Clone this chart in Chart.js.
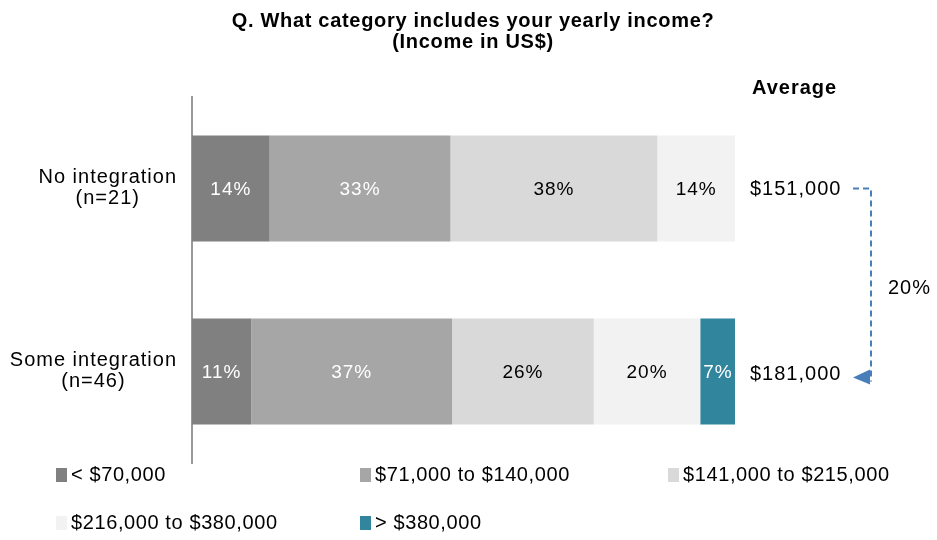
<!DOCTYPE html>
<html>
<head>
<meta charset="utf-8">
<script src="https://cdn.jsdelivr.net/npm/chart.js@4"></script>
<style>
  html, body { margin: 0; padding: 0; background: #fff; }
  #wrap { width: 937px; height: 540px; position: relative; }
</style>
</head>
<body>
<div id="wrap"><canvas id="c" width="937" height="540"></canvas></div>
<script>
// ---- data ----
const categories = [["No integration", "(n=21)"], ["Some integration", "(n=46)"]];
const seriesNames = ["< $70,000", "$71,000 to $140,000", "$141,000 to $215,000", "$216,000 to $380,000", "> $380,000"];
const under70k   = [14.3, 10.9];
const k71to140   = [33.3, 37.0];
const k141to215  = [38.1, 26.1];
const k216to380  = [14.3, 19.6];
const over380k   = [0, 6.5];
const averages   = ["$151,000", "$181,000"];
const averageHeader = "Average";
const changeLabel = "20%";
const titleLines = ["Q. What category includes your yearly income?", "(Income in US$)"];

const colors = ["#808080", "#a6a6a6", "#d9d9d9", "#f2f2f2", "#31859c"];
const labelColors = ["#ffffff", "#ffffff", "#000000", "#000000", "#ffffff"];
const seriesValues = [under70k, k71to140, k141to215, k216to380, over380k];

const FONT = "'Liberation Sans', Arial, sans-serif";

function txt(ctx, s, x, y, font, spacing, align, color) {
  ctx.save();
  ctx.font = font;
  ctx.letterSpacing = spacing + 'px';
  ctx.textBaseline = 'middle';
  ctx.fillStyle = color || '#000';
  let w = ctx.measureText(s).width;
  let sx = x;
  if (align === 'center') sx = x - w / 2;
  else if (align === 'right') sx = x - w;
  ctx.textAlign = 'left';
  ctx.fillText(s, sx, y);
  ctx.restore();
  return w;
}
function measure(ctx, s, font, spacing) {
  ctx.save();
  ctx.font = font;
  ctx.letterSpacing = spacing + 'px';
  const w = ctx.measureText(s).width;
  ctx.restore();
  return w;
}

const titlePlugin = {
  id: 'titlePlugin',
  afterDraw(chart) {
    const ctx = chart.ctx;
    const f = "bold 20px " + FONT;
    txt(ctx, titleLines[0], 473, 21, f, 0.7, 'center');
    txt(ctx, titleLines[1], 473, 42, f, 0.7, 'center');
  }
};

const categoryLabels = {
  id: 'categoryLabels',
  afterDraw(chart) {
    const ctx = chart.ctx;
    const ys = chart.scales.y;
    const f = "20px " + FONT;
    const right = ys.right - 15;
    categories.forEach((lines, i) => {
      const y = ys.getPixelForValue(i);
      const widest = Math.max(...lines.map(l => measure(ctx, l, f, 1)));
      const cx = right - widest / 2;
      const lh = 21;
      lines.forEach((l, k) => {
        txt(ctx, l, cx, y - lh * (lines.length - 1) / 2 + k * lh - 1, f, 1, 'center');
      });
    });
  }
};

const barLabels = {
  id: 'barLabels',
  afterDatasetsDraw(chart) {
    const ctx = chart.ctx;
    const f = "19px " + FONT;
    chart.data.datasets.forEach((ds, di) => {
      const meta = chart.getDatasetMeta(di);
      meta.data.forEach((el, i) => {
        const v = ds.data[i];
        if (!v) return;
        const x = (el.x + el.base) / 2;
        txt(ctx, Math.round(v) + "%", x, el.y + 1, f, 1, 'center', labelColors[di]);
      });
    });
  }
};

const sideNotes = {
  id: 'sideNotes',
  afterDraw(chart) {
    const ctx = chart.ctx;
    const ys = chart.scales.y;
    const area = chart.chartArea;
    const y0 = ys.getPixelForValue(0);
    const y1 = ys.getPixelForValue(1);
    txt(ctx, averageHeader, area.right + 17, area.top - 9, "bold 20px " + FONT, 1, 'left');
    const f = "20px " + FONT;
    txt(ctx, averages[0], area.right + 15, y0 + 1, f, 1, 'left');
    txt(ctx, averages[1], area.right + 15, y1 + 3, f, 1, 'left');
    ctx.save();
    const xs = area.right + 118, xv = area.right + 136;
    ctx.strokeStyle = '#4a7ebb';
    ctx.lineWidth = 2;
    ctx.setLineDash([6, 4]);
    ctx.beginPath();
    ctx.moveTo(xs, y0);
    ctx.lineTo(xv, y0);
    ctx.lineTo(xv, y1 + 10);
    ctx.stroke();
    ctx.setLineDash([]);
    ctx.fillStyle = '#4a7ebb';
    ctx.beginPath();
    ctx.moveTo(xs, y1 + 6);
    ctx.lineTo(xv - 1, y1 - 2);
    ctx.lineTo(xv - 1, y1 + 13);
    ctx.closePath();
    ctx.fill();
    ctx.restore();
    txt(ctx, changeLabel, area.right + 153, (y0 + y1) / 2 + 8, f, 1, 'left');
  }
};

const customLegend = {
  id: 'customLegend',
  afterDraw(chart) {
    const ctx = chart.ctx;
    const colX = [56, 360, 668];
    const rowY = [475, 523];
    const f = "20px " + FONT;
    chart.data.datasets.forEach((ds, i) => {
      const cx = colX[i % 3], cy = rowY[Math.floor(i / 3)];
      ctx.save();
      ctx.fillStyle = ds.backgroundColor;
      ctx.fillRect(cx, cy - 7, 11, 14);
      ctx.restore();
      txt(ctx, ds.label, cx + 15, cy, f, 0.6, 'left');
    });
  }
};

new Chart(document.getElementById('c'), {
  type: 'bar',
  data: {
    labels: categories,
    datasets: seriesNames.map((name, i) => ({
      label: name,
      data: seriesValues[i],
      backgroundColor: colors[i],
      borderWidth: 0,
      barPercentage: 0.58,
      categoryPercentage: 1.0
    }))
  },
  options: {
    indexAxis: 'y',
    responsive: false,
    animation: false,
    devicePixelRatio: 1,
    layout: { padding: { top: 97, right: 202, bottom: 77, left: 0 } },
    plugins: {
      legend: { display: false },
      tooltip: { enabled: false },
      title: { display: false }
    },
    scales: {
      x: {
        stacked: true, display: false, min: 0, max: 100
      },
      y: {
        stacked: true,
        grid: { display: false, drawTicks: false },
        border: { display: true, color: '#999999', width: 2 },
        ticks: { display: false },
        afterFit(scale) { scale.width = 192; }
      }
    }
  },
  plugins: [barLabels, categoryLabels, sideNotes, customLegend, titlePlugin]
});
</script>
</body>
</html>
